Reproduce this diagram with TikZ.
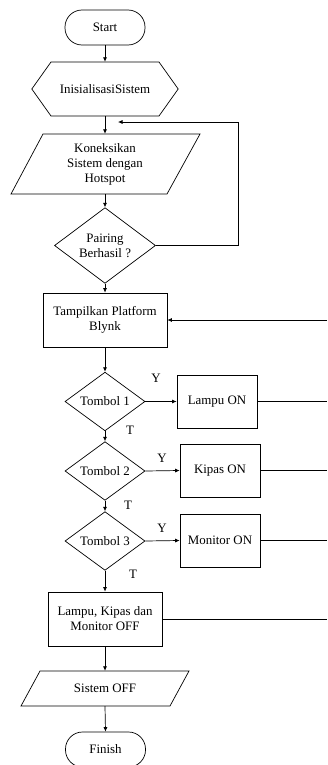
\documentclass[tikz,border=0pt]{standalone}
\usepackage{fontspec}
\setmainfont{Liberation Serif}
\usetikzlibrary{shapes.geometric,arrows.meta,calc}
\begin{document}
\begin{tikzpicture}[x=1bp,y=-1bp,
  every node/.style={font=\fontsize{12.9bp}{15bp}\selectfont, inner sep=0pt, align=center},
  ln/.style={line width=0.7bp, draw=black},
  arr/.style={ln, -{Latex[length=4.5bp,width=4bp]}},
  term/.style={ln, rectangle, rounded corners=17bp, minimum width=80bp, minimum height=35bp},
  box/.style={ln, rectangle, minimum width=80bp, minimum height=53bp},
  dia/.style={ln, diamond, minimum width=80bp, minimum height=53bp},
  ghost/.style={draw=none, rectangle},
  lab/.style={font=\fontsize{12.9bp}{15bp}\selectfont}
]
\useasboundingbox (0,0) rectangle (327,765);
\coordinate (edge) at (327,0);

\node[term] (start) at (105,27.5) {Start};

\node[ghost, minimum width=146bp, minimum height=54bp] (init) at (105,89) {InisialisasiSistem};
\draw[ln] (init.west) -- ($(init.center)+(-54,-27)$) -- ($(init.center)+(54,-27)$) -- (init.east)
  -- ($(init.center)+(54,27)$) -- ($(init.center)+(-54,27)$) -- cycle;

\node[ghost, minimum width=150bp, minimum height=60bp] (conn) at (105,164) {Koneksikan\\Sistem dengan\\Hotspot};
\draw[ln] ($(conn.center)+(-62,-30)$) -- ($(conn.center)+(95,-30)$) -- ($(conn.center)+(62,30)$) -- ($(conn.center)+(-94,30)$) -- cycle;

\node[dia, minimum width=101bp, minimum height=67bp] (pair) at (105,245.5) {Pairing\\Berhasil ?};

\node[box, minimum width=124bp, minimum height=54bp] (tamp) at (105,320) {Tampilkan Platform\\Blynk};

\node[dia] (t1) at (105,401.5) {Tombol 1};
\node[box] (lampu) at (217,401.5) {Lampu ON};
\node[dia] (t2) at (105,471) {Tombol 2};
\node[box] (kipas) at (220,470.5) {Kipas ON};
\node[dia] (t3) at (105,541) {Tombol 3};
\node[box] (monitor) at (220,540.5) {Monitor ON};

\node[box, minimum width=114bp, minimum height=54bp] (off) at (105,619) {Lampu, Kipas dan\\Monitor OFF};

\node[ghost, minimum width=130bp, minimum height=35bp] (soff) at (105,688.5) {Sistem OFF};
\draw[ln] ($(soff.center)+(-65,-17.5)$) -- ($(soff.center)+(84,-17.5)$) -- ($(soff.center)+(65,17.5)$) -- ($(soff.center)+(-84,17.5)$) -- cycle;

\node[term] (fin) at (105.5,749.5) {Finish};

% labels
\node[lab] (y1) at (156,378) {Y};
\node[lab] (n1) at (130,430) {T};
\node[lab] (y2) at (162,458) {Y};
\node[lab] (n2) at (128,505) {T};
\node[lab] (y3) at (162,528) {Y};
\node[lab] (n3) at (133,574) {T};

% main flow
\draw[arr] (start) -- (init);
\draw[arr] (init.south) -- (conn.north);
\draw[arr] (conn.south) -- (pair.north);
\draw[arr] (pair.south) -- (tamp.north);
\draw[arr] (tamp.south) -- (t1.north);
\draw[arr] (t1.south) -- (t2.north);
\draw[arr] (t2.south) -- (t3.north);
\draw[arr] (t3.south) -- (off.north);
\draw[arr] (off.south) -- (soff.north);
\draw[arr] (soff.south) -- (fin.north);

% loop back
\coordinate (loopA) at (238,122);
\coordinate (loopEnd) at (118,122);
\draw[arr] (pair.east) -| (loopA) -- (loopEnd);

% yes branches
\draw[arr] (t1.east) -- (lampu.west);
\draw[arr] (t2.east) -- (kipas.west);
\draw[arr] (t3.east) -- (monitor.west);

% lines to right edge
\draw[arr] (tamp.east -| edge) -- (tamp.east);
\draw[ln] (lampu.east) -- (lampu.east -| edge);
\draw[ln] (kipas.east) -- (kipas.east -| edge);
\draw[ln] (monitor.east) -- (monitor.east -| edge);
\draw[ln] (off.east) -- (off.east -| edge);
\end{tikzpicture}
\end{document}
